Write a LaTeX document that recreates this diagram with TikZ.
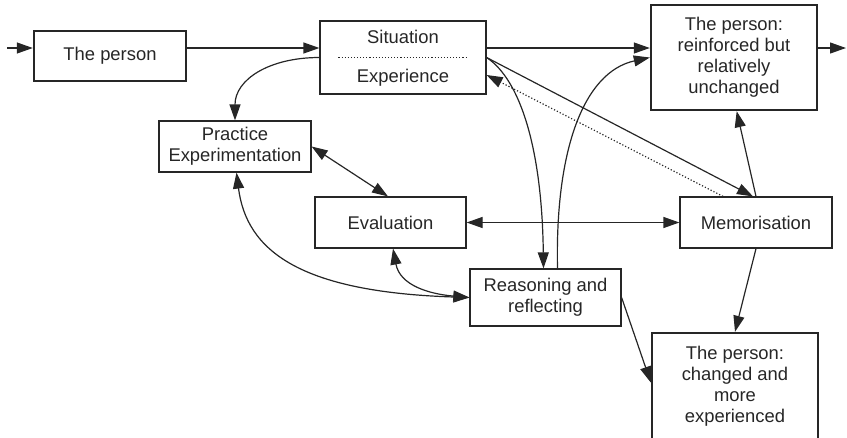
\documentclass[tikz,border=0pt]{standalone}
\usepackage{fontspec}
\setmainfont{Liberation Sans}
\usetikzlibrary{arrows.meta,calc}
\begin{document}
\begin{tikzpicture}[x=1pt,y=-1pt,
  every node/.style={font=\fontsize{18.4}{21}\selectfont, text=black!85},
  box/.style={draw=black!85, line width=1.2pt, inner sep=0pt, align=center},
  thickbox/.style={box, line width=2.4pt},
  arr/.style={draw=black!85, line width=1.2pt, -{Triangle[length=16pt,width=11pt]}},
  darr/.style={draw=black!85, line width=1.2pt, {Triangle[length=16pt,width=11pt]}-{Triangle[length=16pt,width=11pt]}},
  lbl/.style={inner sep=0pt}]
\useasboundingbox (0,0) rectangle (847,437);

\node[thickbox, minimum width=152pt, minimum height=50pt] (person) at (110,56) {The person};
\node[box, minimum width=166pt, minimum height=73pt] (sit) at (403,57.5) {};
\node[lbl] (sitA) at (403,37) {Situation};
\node[lbl] (sitB) at (403,78) {Experience};
\draw[black!85, line width=1.1pt, dotted] ([xshift=19pt]sit.west) -- ([xshift=-19pt]sit.east);
\node[thickbox, minimum width=166pt, minimum height=105pt] (tr) at (734,57.5) {The person:\\reinforced but\\relatively\\unchanged};
\node[box, minimum width=152pt, minimum height=51pt] (prac) at (235,146.5) {Practice\\Experimentation};
\node[box, minimum width=151pt, minimum height=51pt] (eval) at (390.5,222.5) {Evaluation};
\node[box, minimum width=152pt, minimum height=51pt] (mem) at (756,222.5) {Memorisation};
\node[box, minimum width=151pt, minimum height=57pt] (reas) at (545.5,297.5) {Reasoning and\\reflecting};
\node[thickbox, minimum width=166pt, minimum height=107pt] (br) at (735,386.5) {The person:\\changed and\\more\\experienced};

\coordinate (in) at (7,48);
\coordinate (out) at (846,48);

\draw[arr] (in) -- (in -| person.west);
\draw[arr] ([yshift=8pt]person.east) -- ([yshift=8pt]person.east -| sit.west);
\draw[arr] ([yshift=9.5pt]sit.east) -- ([yshift=9.5pt]sit.east -| tr.west);
\draw[arr] ([yshift=9.5pt]tr.east) -- (out);

\draw[arr] (sit.west) .. controls +(-50,0) and +(0,-41) .. (prac.north);
\draw[arr] (sit.east) .. controls +(34,22.5) and +(-1.5,-119) .. ([xshift=-2pt]reas.north);
\draw[arr] ([xshift=12pt]reas.north) .. controls +(-2.5,-119) and +(-66,14.5) .. (tr.west);
\draw[arr] (sit.east) -- ([xshift=-3pt]mem.north);
\draw[arr, dotted] ([xshift=-33pt]mem.north) -- ([yshift=-17.5pt]sit.east);
\draw[arr] (mem.north) -- ([xshift=2.7pt]tr.south);
\draw[arr] (mem.south) -- (br.north);
\draw[arr] (reas.east) -- ([yshift=4pt]br.west);
\draw[darr] (eval.east) -- (mem.west);
\draw[darr] (prac.east) -- ([xshift=-2.5pt]eval.north);
\draw[darr] (reas.west) .. controls +(-170,-5.5) and +(10,78) .. ([xshift=1.5pt]prac.south);
\draw[darr] (reas.west) .. controls +(-40,-3.5) and +(7,37) .. ([xshift=2.5pt]eval.south);
\end{tikzpicture}
\end{document}
